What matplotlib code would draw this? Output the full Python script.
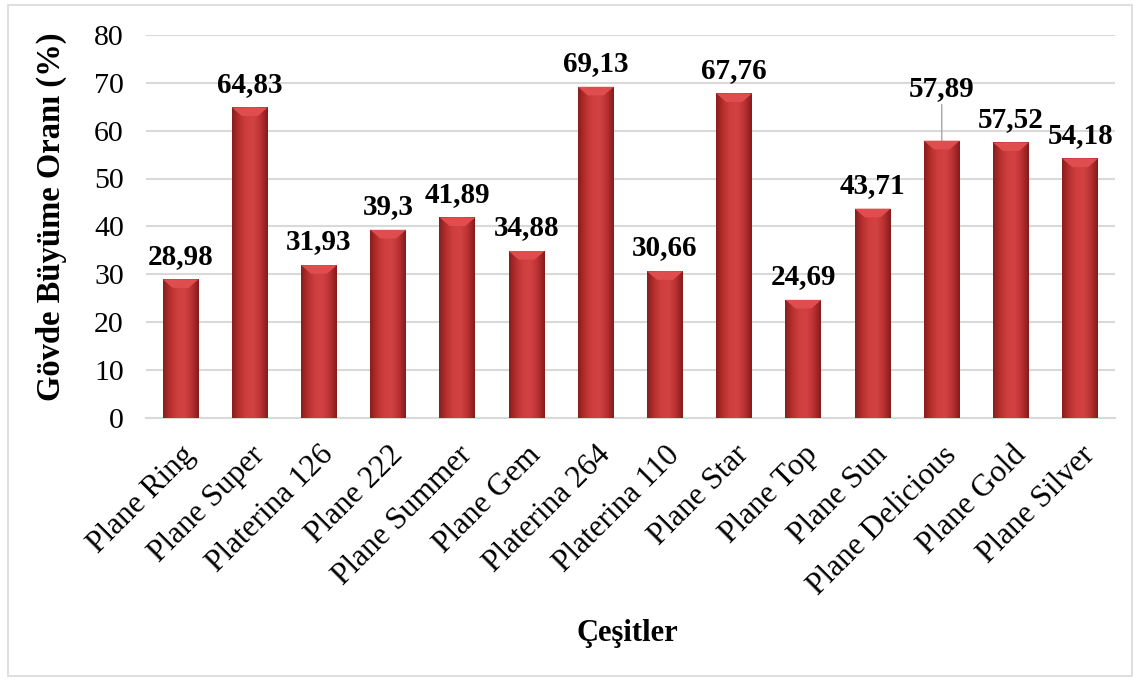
import matplotlib.pyplot as plt
import numpy as np
from matplotlib.patches import Rectangle, Polygon
from matplotlib.colors import LinearSegmentedColormap
import matplotlib.transforms as mtransforms

# çeşitler ve gövde büyüme oranları
cesitler = ['Plane Ring', 'Plane Super', 'Platerina 126', 'Plane 222', 'Plane Summer',
            'Plane Gem', 'Platerina 264', 'Platerina 110', 'Plane Star', 'Plane Top',
            'Plane Sun', 'Plane Delicious', 'Plane Gold', 'Plane Silver']
oranlar = [28.98, 64.83, 31.93, 39.3, 41.89, 34.88, 69.13, 30.66, 67.76, 24.69,
           43.71, 57.89, 57.52, 54.18]
etiketler = ['28,98', '64,83', '31,93', '39,3', '41,89', '34,88', '69,13', '30,66',
             '67,76', '24,69', '43,71', '57,89', '57,52', '54,18']

plt.rcParams['font.family'] = ['Liberation Serif', 'DejaVu Serif']

fig = plt.figure(figsize=(11.41, 6.8), dpi=100)
ax = fig.add_axes([0.128, 0.385, 0.849, 0.564])

# dış çerçeve
fig.patches.append(Rectangle((0.007, 0.006), 0.985, 0.986, transform=fig.transFigure,
                             fill=False, edgecolor='#d9d9d9', linewidth=1.2))

# yatay gradyan (kenarlar koyu, orta açık)
cmap = LinearSegmentedColormap.from_list('kirmizi', ['#8a1d1d', '#b8302f', '#cf3f40',
                                                     '#d24244', '#bb3234', '#861b1b'])
grad = np.linspace(0, 1, 64).reshape(1, -1)

genislik = 0.52
x = np.arange(len(cesitler))
bars = ax.bar(x, oranlar, width=genislik, color='none', zorder=3)
for b in bars:
    x0, y0 = b.get_x(), b.get_y()
    w, h = b.get_width(), b.get_height()
    im = ax.imshow(grad, cmap=cmap, aspect='auto', extent=[x0, x0 + w, y0, y0 + h],
                   zorder=3, interpolation='bicubic')
    im.set_clip_path(b)
    # üstteki eğim
    d = 1.8
    ax.add_patch(Polygon([[x0, h], [x0 + w, h], [x0 + w * 0.72, h - d], [x0 + w * 0.28, h - d]],
                         closed=True, facecolor='#df4d4e', edgecolor='none', zorder=4))

# değer etiketleri
for i, (v, t) in enumerate(zip(oranlar, etiketler)):
    if t == '57,89':
        ax.annotate(t, xy=(i, v), xytext=(0, 28), textcoords='offset points',
                    ha='center', va='bottom', fontsize=21, fontweight='bold',
                    arrowprops=dict(arrowstyle='-', color='#a6a6a6', lw=1,
                                    shrinkA=0, shrinkB=0))
    else:
        ax.annotate(t, xy=(i, v), xytext=(0, 7), textcoords='offset points',
                    ha='center', va='bottom', fontsize=21, fontweight='bold')

ax.set_xlim(-0.5, len(cesitler) - 0.5)
ax.set_ylim(0, 80)
ax.set_yticks(range(0, 81, 10))
ax.set_xticks(x)
ax.set_xticklabels(cesitler, rotation=45, ha='right', rotation_mode='anchor', fontsize=22.5)
# etiketleri biraz sola kaydır
kaydir = mtransforms.ScaledTranslation(-10 / 72, 0, fig.dpi_scale_trans)
for lbl in ax.get_xticklabels():
    lbl.set_transform(lbl.get_transform() + kaydir)
ax.tick_params(axis='y', labelsize=21.5, length=0, pad=16)
ax.tick_params(axis='x', length=0, pad=16)
ax.grid(axis='y', color='#d9d9d9', linewidth=1.5, zorder=0)
ax.set_axisbelow(True)
for s in ['top', 'right', 'left']:
    ax.spines[s].set_visible(False)
ax.spines['bottom'].set_color('#d9d9d9')
ax.spines['bottom'].set_linewidth(1.5)

ax.set_ylabel('Gövde Büyüme Oranı (%)', fontsize=23.5, fontweight='bold', labelpad=8)
ax.yaxis.set_label_coords(-0.082, 0.525)
fig.text(0.55, 0.069, 'Çeşitler', ha='center', va='center', fontsize=22, fontweight='bold')

plt.savefig('out.png', dpi=100)
